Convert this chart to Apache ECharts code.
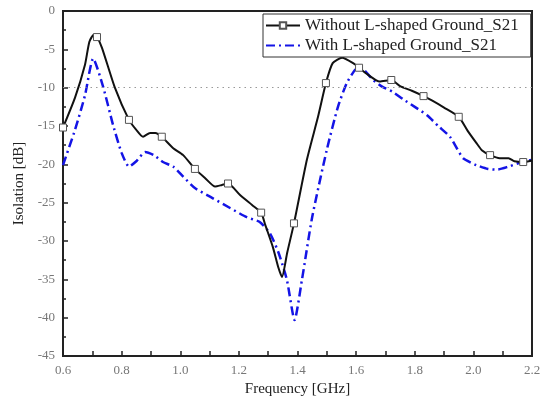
<!DOCTYPE html>
<html><head><meta charset="utf-8">
<script src="https://cdn.jsdelivr.net/npm/echarts@6/dist/echarts.min.js"></script>
<style>html,body{margin:0;padding:0;background:#fff}#c{width:551px;height:402px}</style>
</head><body><div id="c"></div>
<script>
var seriesNames = ['Without L-shaped Ground_S21', 'With L-shaped Ground_S21'];
var xTicks = [0.6, 0.8, 1.0, 1.2, 1.4, 1.6, 1.8, 2.0, 2.2];
var yTicks = [0, -5, -10, -15, -20, -25, -30, -35, -40, -45];
var refLevel = -10;
// Without L-shaped ground: freq (GHz), isolation (dB), marker flag
var withoutFreq = [0.600,0.641,0.675,0.690,0.705,0.716,0.733,0.777,0.825,0.850,0.873,0.897,0.915,0.937,0.976,1.010,1.050,1.085,1.119,1.142,1.163,1.204,1.245,1.276,1.290,1.316,1.335,1.347,1.365,1.388,1.432,1.470,1.497,1.520,1.552,1.590,1.610,1.640,1.680,1.720,1.750,1.790,1.830,1.860,1.900,1.950,1.980,2.010,2.030,2.057,2.090,2.120,2.140,2.170,2.200];
var withoutDb = [-15.2,-11.3,-7.0,-4.0,-3.1,-3.4,-4.8,-10.0,-14.2,-15.5,-16.4,-15.9,-15.9,-16.4,-17.9,-18.8,-20.6,-21.8,-22.9,-22.7,-22.5,-24.0,-25.3,-26.3,-27.9,-30.8,-33.5,-34.7,-31.5,-27.7,-19.4,-13.8,-9.4,-6.8,-6.1,-6.8,-7.4,-8.3,-9.2,-9.0,-9.8,-10.4,-11.1,-11.7,-12.6,-13.8,-15.6,-17.2,-18.2,-18.8,-19.2,-19.2,-19.6,-19.7,-19.5];
var withoutMarker = [1,0,0,0,0,1,0,0,1,0,0,0,0,1,0,0,1,0,0,0,1,0,0,1,0,0,0,0,0,1,0,0,1,0,0,0,1,0,0,1,0,0,1,0,0,1,0,0,0,1,0,0,0,1,0];
// With L-shaped ground: freq (GHz), isolation (dB)
var withFreq = [0.600,0.641,0.675,0.703,0.737,0.771,0.800,0.825,0.850,0.880,0.910,0.941,0.976,1.010,1.050,1.110,1.170,1.227,1.270,1.306,1.335,1.364,1.390,1.415,1.450,1.500,1.538,1.568,1.596,1.613,1.630,1.658,1.690,1.723,1.760,1.800,1.842,1.880,1.920,1.945,1.965,2.010,2.050,2.080,2.120,2.150,2.180,2.200];
var withDb = [-20.1,-15.5,-11.0,-6.2,-9.9,-14.9,-18.5,-20.3,-19.6,-18.4,-18.8,-19.7,-20.3,-21.6,-23.1,-24.4,-25.7,-26.9,-27.5,-29.0,-31.5,-35.1,-40.3,-35.1,-26.9,-18.1,-12.5,-9.4,-7.7,-7.3,-7.8,-9.0,-9.9,-10.5,-11.5,-12.5,-13.6,-15.0,-16.4,-18.0,-19.2,-20.1,-20.6,-20.7,-20.3,-19.9,-19.6,-19.4];

var font = 'Liberation Serif';
var d1 = withoutFreq.map(function(f, i){
  return withoutMarker[i] ? {value:[f, withoutDb[i]]} : {value:[f, withoutDb[i]], symbol:'none'};
});
var d2 = withFreq.map(function(f, i){ return [f, withDb[i]]; });

var chart = echarts.init(document.getElementById('c'));
chart.setOption({
  animation: false,
  backgroundColor: '#fff',
  grid: {left: 63, right: 19, top: 11, bottom: 46, show: true, borderColor: '#222', borderWidth: 2},
  legend: {
    orient: 'vertical', left: 263, top: 14,
    backgroundColor: '#fff', borderColor: '#333', borderWidth: 1,
    padding: [3, 12, 3, 2], itemGap: 3, itemWidth: 34, itemHeight: 8,
    textStyle: {fontFamily: font, fontSize: 17, color: '#222'},
    data: [
      {name: seriesNames[0]},
      {name: seriesNames[1], itemStyle: {opacity: 0, color: 'rgba(0,0,0,0)', borderWidth: 0}}
    ]
  },
  xAxis: {
    type: 'value', position: 'bottom', min: xTicks[0], max: xTicks[xTicks.length-1], interval: 0.1,
    name: 'Frequency [GHz]', nameLocation: 'middle', nameGap: 26,
    nameTextStyle: {fontFamily: font, fontSize: 15, color: '#222'},
    axisLine: {show: true, onZero: false, lineStyle: {color: '#222', width: 2}},
    axisTick: {show: true, inside: true, length: 5, lineStyle: {color: '#222', width: 1.5}},
    minorTick: {show: false},
    splitLine: {show: false},
    axisLabel: {fontFamily: font, fontSize: 13, color: '#777', margin: 8, showMinLabel: true, showMaxLabel: true,
      formatter: function(v){ return Math.round(v * 10) % 2 === 0 ? v.toFixed(1) : ''; }}
  },
  yAxis: {
    type: 'value', position: 'left', min: yTicks[yTicks.length-1], max: yTicks[0], interval: 5,
    name: 'Isolation [dB]', nameLocation: 'middle', nameGap: 34,
    nameTextStyle: {fontFamily: font, fontSize: 15, color: '#222'},
    axisLine: {show: true, onZero: false, lineStyle: {color: '#222', width: 2}},
    axisTick: {show: true, inside: true, length: 5, lineStyle: {color: '#222', width: 1.5}},
    minorTick: {show: true, splitNumber: 2, length: 3, lineStyle: {color: '#222', width: 1.5}},
    splitLine: {show: false},
    axisLabel: {fontFamily: font, fontSize: 13, color: '#777', margin: 8}
  },
  series: [
    {
      name: seriesNames[0], type: 'line', data: d1, z: 3,
      smooth: 0.2,
      symbol: 'rect', symbolSize: 7, showAllSymbol: true,
      lineStyle: {color: '#111', width: 2},
      itemStyle: {color: '#fff', borderColor: '#555', borderWidth: 1},
      markLine: {
        silent: true, symbol: 'none', label: {show: false},
        lineStyle: {color: '#999', type: [1.5, 4], width: 1.2},
        data: [{yAxis: refLevel}]
      }
    },
    {
      name: seriesNames[1], type: 'line', data: d2, z: 2,
      smooth: 0.2,
      symbol: 'none',
      lineStyle: {color: '#1414e6', width: 2.5, type: [9, 4, 2, 4]},
      itemStyle: {color: '#1414e6'}
    }
  ]
});
</script></body></html>
